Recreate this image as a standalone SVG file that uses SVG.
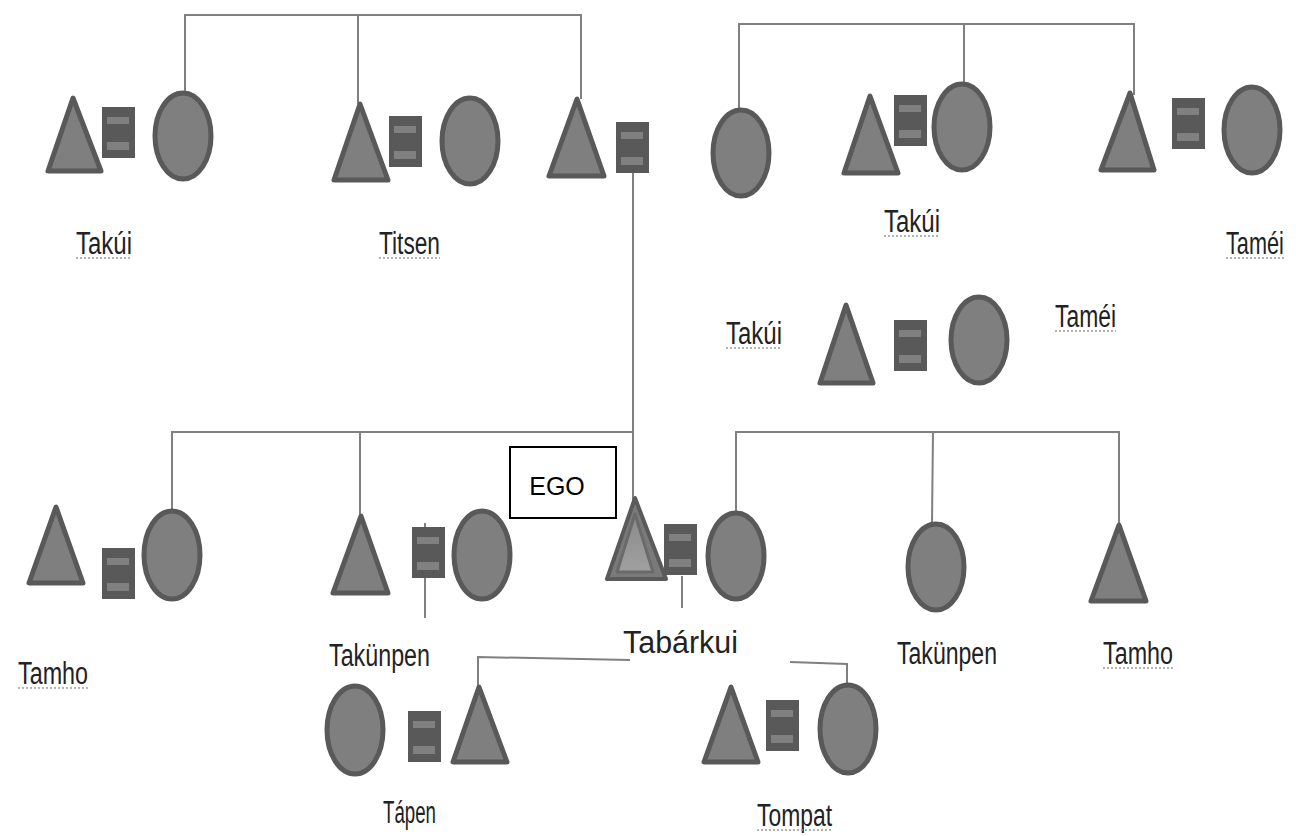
<svg xmlns="http://www.w3.org/2000/svg" xmlns:xlink="http://www.w3.org/1999/xlink" width="1296" height="836" viewBox="0 0 1296 836">
<style>
.t{fill:#7f7f7f;stroke:#595959;stroke-width:5;stroke-linejoin:round}
.e{fill:#7f7f7f;stroke:#595959;stroke-width:5}
.c{fill:none;stroke:#808080;stroke-width:2}
.lb{font-family:"Liberation Sans",Arial,sans-serif;font-size:31px;fill:#222}
.sq{fill:none;stroke:#9a9a9a;stroke-width:1.5;stroke-dasharray:2 2}
</style>
<defs>
<g id="m">
<rect x="0" y="0" width="33" height="51" fill="#595959"/>
<rect x="5" y="10" width="22" height="7" fill="#808080"/>
<rect x="5" y="35" width="22" height="8" fill="#808080"/>
</g>
<linearGradient id="eg" x1="0" y1="0" x2="0" y2="1">
<stop offset="0" stop-color="#8a8a8a"/>
<stop offset="1" stop-color="#a0a0a0"/>
</linearGradient>
</defs>
<rect width="1296" height="836" fill="#fff"/>
<g id="connectors">
<path class="c" d="M185,92 V15 H581 V99"/>
<path class="c" d="M358,16 V104"/>
<path class="c" d="M739,108 V24 H1134 V95"/>
<path class="c" d="M964,24 V82"/>
<path class="c" d="M633,173 V500"/>
<path class="c" d="M172,509 V432 H633"/>
<path class="c" d="M360,432 V516"/>
<path class="c" d="M736,513 V432 H1119 V524"/>
<path class="c" d="M933,432 L932,522"/>
<path class="c" d="M425,523 V618"/>
<path class="c" d="M682,576 V608"/>
<path class="c" d="M478,687 V657 L630,660"/>
<path class="c" d="M790,662 L847,664 V700"/>
</g>
<g id="c1">
<polygon class="t" points="73,98 48,171 101,171"/>
<use xlink:href="#m" x="102" y="107"/>
<ellipse class="e" cx="183" cy="136" rx="28" ry="43"/>
</g>
<g id="c2">
<polygon class="t" points="360,104 334,180 388,180"/>
<use xlink:href="#m" x="389" y="116"/>
<ellipse class="e" cx="470" cy="141" rx="28" ry="43"/>
</g>
<g id="c3">
<polygon class="t" points="577,99 549,176 604,176"/>
<use xlink:href="#m" x="616" y="122"/>
</g>
<g id="f1">
<ellipse class="e" cx="741" cy="153" rx="28" ry="43"/>
</g>
<g id="c4">
<polygon class="t" points="870,96 844,173 898,173"/>
<use xlink:href="#m" x="894" y="95"/>
<ellipse class="e" cx="962" cy="127" rx="28" ry="43"/>
</g>
<g id="c5">
<polygon class="t" points="1130,93 1101,170 1154,170"/>
<use xlink:href="#m" x="1172" y="98"/>
<ellipse class="e" cx="1252" cy="130" rx="28" ry="43"/>
</g>
<g id="c6">
<polygon class="t" points="846,305 820,383 873,383"/>
<use xlink:href="#m" x="894" y="320"/>
<ellipse class="e" cx="979" cy="340" rx="28" ry="43"/>
</g>
<g id="c7">
<polygon class="t" points="56,507 29,583 83,583"/>
<use xlink:href="#m" x="102" y="548"/>
<ellipse class="e" cx="172" cy="555" rx="28" ry="44"/>
</g>
<g id="c8">
<polygon class="t" points="361,516 333,593 388,593"/>
<use xlink:href="#m" x="412" y="527"/>
<ellipse class="e" cx="482" cy="555" rx="28" ry="44"/>
</g>
<g id="ego">
<polygon points="635,498 607,579 666,579" fill="#7a7a7a" stroke="#5a5a5a" stroke-width="4" stroke-linejoin="round"/>
<polygon points="635,514 617,572 653,572" fill="url(#eg)" stroke="#6a6a6a" stroke-width="3" stroke-linejoin="round"/>
<use xlink:href="#m" x="664" y="524"/>
<ellipse class="e" cx="736" cy="556" rx="28" ry="43"/>
</g>
<g id="egobox">
<rect x="510" y="447" width="106" height="71" fill="#fff" stroke="#000" stroke-width="2"/>
<text x="557" y="495" text-anchor="middle" font-family="Liberation Sans, Arial, sans-serif" font-size="25" fill="#000">EGO</text>
</g>
<g id="s1">
<ellipse class="e" cx="936" cy="567" rx="28" ry="43"/>
</g>
<g id="s2">
<polygon class="t" points="1119,525 1091,601 1146,601"/>
</g>
<g id="c9">
<ellipse class="e" cx="355" cy="730" rx="28" ry="44"/>
<use xlink:href="#m" x="408" y="711"/>
<polygon class="t" points="479,687 453,762 507,762"/>
</g>
<g id="c10">
<polygon class="t" points="731,687 704,762 758,762"/>
<use xlink:href="#m" x="766" y="700"/>
<ellipse class="e" cx="848" cy="729" rx="28" ry="44"/>
</g>
<g id="labels">
<text class="lb" x="76" y="254" textLength="56" lengthAdjust="spacingAndGlyphs">Takúi</text>
<path class="sq" d="M76,258 H132"/>
<text class="lb" x="379" y="254" textLength="61" lengthAdjust="spacingAndGlyphs">Titsen</text>
<path class="sq" d="M379,258 H440"/>
<text class="lb" x="884" y="232" textLength="56" lengthAdjust="spacingAndGlyphs">Takúi</text>
<path class="sq" d="M884,236 H940"/>
<text class="lb" transform="translate(1226,254) scale(0.7,1)" x="0" y="0">Taméi</text>
<path class="sq" d="M1226,258 H1286"/>
<text class="lb" x="726" y="344" textLength="56" lengthAdjust="spacingAndGlyphs">Takúi</text>
<path class="sq" d="M726,348 H782"/>
<text class="lb" x="1055" y="327" textLength="61" lengthAdjust="spacingAndGlyphs">Taméi</text>
<path class="sq" d="M1055,331 H1116"/>
<text class="lb" x="18" y="684" textLength="70" lengthAdjust="spacingAndGlyphs">Tamho</text>
<path class="sq" d="M18,688 H88"/>
<text class="lb" x="329" y="666" textLength="101" lengthAdjust="spacingAndGlyphs">Takünpen</text>
<text class="lb" x="623" y="653" textLength="115" lengthAdjust="spacingAndGlyphs">Tabárkui</text>
<text class="lb" x="897" y="664" textLength="100" lengthAdjust="spacingAndGlyphs">Takünpen</text>
<text class="lb" x="1103" y="664" textLength="70" lengthAdjust="spacingAndGlyphs">Tamho</text>
<path class="sq" d="M1103,668 H1173"/>
<text class="lb" x="383" y="823" textLength="53" lengthAdjust="spacingAndGlyphs">Tápen</text>
<text class="lb" x="757" y="826" textLength="75" lengthAdjust="spacingAndGlyphs">Tompat</text>
<path class="sq" d="M757,830 H832"/>
</g>
</svg>
